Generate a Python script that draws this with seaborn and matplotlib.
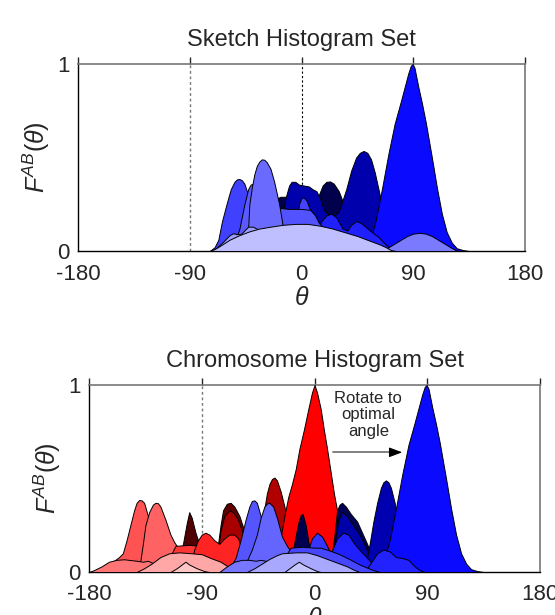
import matplotlib
matplotlib.use("Agg")
import matplotlib.pyplot as plt
import seaborn as sns

# ---- Sketch histogram set: (theta, F) control points per histogram ----
SK_NAVY = [(-24, 0), (-22, 0.2), (-20, 0.28), (-17, 0.29), (-12, 0.29), (-5, 0.25), (5, 0.22),
           (14, 0.3), (17, 0.35), (20, 0.37), (23, 0.372), (26, 0.36), (30, 0.32), (34, 0.25), (38, 0.12), (42, 0)]
SK_DARK = [(-20, 0), (-16, 0.15), (-13, 0.28), (-10, 0.35), (-8, 0.37), (-5, 0.37), (-2, 0.355), (2, 0.35),
           (6, 0.345), (9, 0.33), (12, 0.32), (15, 0.28), (18, 0.22), (24, 0.18), (30, 0.21), (36, 0.33),
           (40, 0.43), (44, 0.5), (47, 0.525), (50, 0.535), (53, 0.525), (56, 0.49), (59, 0.42), (63, 0.3),
           (68, 0.15), (72, 0.05), (76, 0)]
SK_BIG = [(50, 0), (55, 0.05), (60, 0.17), (65, 0.34), (70, 0.52), (75, 0.68), (80, 0.8), (84, 0.9),
          (86, 0.95), (88, 0.99), (89.5, 1.0), (91, 0.98), (94, 0.88), (97, 0.79), (100, 0.69), (105, 0.5),
          (109, 0.34), (113, 0.2), (117, 0.1), (121, 0.045), (125, 0.015), (130, 0.005), (135, 0)]
SK_BRIGHT = [(8, 0), (12, 0.1), (16, 0.16), (20, 0.19), (24, 0.2), (28, 0.18), (33, 0.12), (37, 0.11),
             (40, 0.14), (44, 0.16), (48, 0.15), (55, 0.11), (62, 0.075), (67, 0.04), (72, 0.01), (76, 0)]
SK_BUMP = [(-6, 0), (-4, 0.15), (-2, 0.25), (0, 0.285), (2, 0.285), (4, 0.27), (8, 0.2), (12, 0.1), (15, 0)]
SK_PLATEAU = [(-22, 0), (-19, 0.2), (-17, 0.23), (-10, 0.225), (0, 0.225), (7, 0.22), (11, 0.19),
              (14, 0.15), (17, 0.13), (20, 0.08), (24, 0)]
SK_PEAK1 = [(-74, 0), (-70, 0.02), (-67, 0.06), (-64, 0.16), (-60, 0.26), (-57, 0.33), (-54, 0.37),
            (-52, 0.383), (-50, 0.385), (-48, 0.378), (-46, 0.36), (-43, 0.3), (-39, 0.2), (-35, 0.1), (-30, 0)]
SK_PEAK2 = [(-56, 0), (-50, 0.12), (-46, 0.25), (-43, 0.33), (-41, 0.355), (-39, 0.36), (-37, 0.35),
            (-33, 0.25), (-29, 0.1), (-26, 0)]
SK_TALL = [(-48, 0), (-45, 0.05), (-43, 0.12), (-42, 0.25), (-40, 0.34), (-38, 0.41), (-36, 0.455),
           (-34, 0.478), (-32, 0.49), (-30, 0.488), (-28, 0.475), (-25, 0.44), (-22, 0.37), (-20, 0.31),
           (-18, 0.25), (-16, 0.17), (-14, 0.08), (-12, 0)]
SK_LIGHT = [(-72, 0), (-68, 0.02), (-63, 0.05), (-58, 0.085), (-55, 0.095), (-52, 0.09), (-49, 0.09),
            (-46, 0.11), (-43, 0.13), (-39, 0.13), (-35, 0.115), (-30, 0.1), (-25, 0.08), (-20, 0)]
SK_HUMP = [(66, 0), (70, 0.02), (75, 0.04), (80, 0.06), (85, 0.08), (90, 0.093), (95, 0.097),
           (100, 0.093), (105, 0.08), (110, 0.06), (115, 0.04), (120, 0.02), (124, 0.005), (128, 0)]
SK_LAV = [(-74, 0), (-70, 0.01), (-65, 0.03), (-58, 0.06), (-50, 0.085), (-42, 0.105), (-34, 0.12),
          (-25, 0.13), (-15, 0.14), (-5, 0.145), (5, 0.145), (15, 0.135), (25, 0.12), (35, 0.1),
          (45, 0.08), (55, 0.055), (63, 0.035), (68, 0.02), (72, 0.005), (76, 0)]

# ---- Chromosome histogram set ----
CH_MAROON_A = [(-112, 0), (-108, 0.08), (-105, 0.15), (-102, 0.26), (-100, 0.32), (-98, 0.29),
               (-95, 0.21), (-92, 0.15), (-88, 0.08), (-84, 0)]
CH_R1 = [(-178, 0), (-172, 0.01), (-165, 0.04), (-160, 0.06), (-156, 0.08), (-153, 0.1), (-150, 0.17),
         (-147, 0.25), (-144, 0.33), (-142, 0.37), (-140, 0.385), (-138, 0.383), (-136, 0.37), (-133, 0.3),
         (-130, 0.2), (-127, 0.1), (-124, 0.04), (-120, 0)]
CH_R2 = [(-142, 0), (-139, 0.06), (-137, 0.15), (-135, 0.25), (-132, 0.32), (-129, 0.36), (-127, 0.37),
         (-125, 0.368), (-123, 0.35), (-119, 0.28), (-115, 0.2), (-112, 0.16), (-110, 0.14), (-105, 0.08),
         (-100, 0.03), (-95, 0)]
CH_R_PLATE = [(-118, 0), (-114, 0.1), (-111, 0.14), (-100, 0.145), (-90, 0.14), (-82, 0.135),
              (-75, 0.11), (-68, 0.085), (-62, 0.06), (-55, 0.02), (-50, 0)]
CH_MAROON_B = [(-80, 0), (-77, 0.15), (-75, 0.25), (-73, 0.33), (-70, 0.365), (-67, 0.37), (-64, 0.35),
               (-60, 0.3), (-56, 0.22), (-52, 0.12), (-48, 0)]
CH_MAROON_C = [(-80, 0), (-77, 0.12), (-75, 0.22), (-72, 0.3), (-68, 0.33), (-65, 0.32), (-61, 0.28),
               (-57, 0.2), (-53, 0.1), (-48, 0)]
CH_R_HUMP = [(-100, 0), (-96, 0.12), (-93, 0.17), (-90, 0.2), (-87, 0.21), (-84, 0.2), (-80, 0.17),
             (-76, 0.15), (-72, 0.18), (-68, 0.2), (-64, 0.2), (-61, 0.18), (-57, 0.1), (-53, 0.03), (-50, 0)]
CH_R_LIGHT = [(-180, 0), (-176, 0.01), (-170, 0.03), (-164, 0.055), (-158, 0.065), (-152, 0.068),
              (-147, 0.064), (-142, 0.06), (-137, 0.055), (-133, 0.06), (-128, 0.045), (-122, 0.02), (-118, 0)]
CH_R_PALE = [(-142, 0), (-136, 0.02), (-130, 0.045), (-123, 0.08), (-116, 0.1), (-108, 0.105),
             (-98, 0.1), (-90, 0.095), (-83, 0.075), (-75, 0.055), (-68, 0.025), (-62, 0.005), (-58, 0)]
CH_R_LAV = [(-115, 0), (-110, 0.02), (-106, 0.04), (-103, 0.055), (-100, 0.04), (-94, 0.02),
            (-88, 0.005), (-84, 0)]
CH_DARKRED = [(-50, 0), (-45, 0.15), (-41, 0.3), (-38, 0.42), (-36, 0.47), (-34, 0.497), (-32, 0.505),
              (-30, 0.49), (-27, 0.43), (-24, 0.35), (-20, 0.2), (-16, 0.08), (-12, 0)]
CH_RED = [(-40, 0), (-33, 0.05), (-28, 0.15), (-24, 0.3), (-21, 0.4), (-18, 0.47), (-15, 0.55),
          (-12, 0.66), (-8.5, 0.76), (-5, 0.87), (-2, 0.96), (0, 1.0), (2, 0.96), (5, 0.87), (7.5, 0.76),
          (10, 0.66), (13, 0.53), (15.5, 0.42), (18, 0.33), (21, 0.22), (25, 0.12), (30, 0.05), (35, 0)]
CH_NAVY_B = [(12, 0), (16, 0.2), (18, 0.33), (20, 0.36), (22, 0.37), (25, 0.35), (29, 0.31), (34, 0.27),
             (38, 0.21), (42, 0.15), (46, 0.08), (50, 0)]
CH_DARK_B = [(12, 0), (16, 0.15), (19, 0.28), (22, 0.32), (26, 0.3), (31, 0.25), (36, 0.2), (41, 0.13),
             (46, 0.06), (50, 0)]
CH_DARK57 = [(38, 0), (42, 0.08), (44, 0.15), (47, 0.27), (50, 0.37), (53, 0.45), (55, 0.48), (57, 0.49),
             (59, 0.48), (61, 0.45), (64, 0.37), (67, 0.25), (71, 0.1), (75, 0)]
CH_BIG = [(50, 0), (55, 0.05), (60, 0.17), (65, 0.34), (70, 0.52), (75, 0.68), (80, 0.8), (84, 0.9),
          (86, 0.95), (88, 0.99), (89.5, 1.0), (91, 0.98), (94, 0.88), (97, 0.79), (100, 0.69), (105, 0.5),
          (109, 0.34), (113, 0.2), (117, 0.1), (121, 0.045), (125, 0.015), (130, 0.005), (135, 0)]
CH_BRIGHT = [(8, 0), (13, 0.1), (18, 0.18), (23, 0.21), (27, 0.2), (32, 0.15), (37, 0.11), (40, 0.09),
             (44, 0.06), (48, 0.03), (52, 0)]
CH_BRIGHT2 = [(40, 0), (45, 0.05), (50, 0.1), (55, 0.12), (60, 0.11), (65, 0.08), (70, 0.075),
              (75, 0.065), (80, 0.03), (84, 0.01), (88, 0)]
CH_NAVY_A = [(-20, 0), (-16, 0.16), (-13, 0.26), (-11, 0.305), (-9.5, 0.31), (-7, 0.25), (-4.5, 0.145),
             (-2, 0.05), (0, 0)]
CH_BLUEHUMP = [(-8, 0), (-5, 0.12), (-2, 0.18), (2, 0.21), (6, 0.19), (10, 0.14), (14, 0.08), (18, 0)]
CH_BLUE1 = [(-72, 0), (-67, 0.03), (-63, 0.075), (-59, 0.17), (-55, 0.28), (-52, 0.35), (-50, 0.38),
            (-48, 0.383), (-46, 0.37), (-43, 0.3), (-40, 0.2), (-36, 0.1), (-32, 0.03), (-28, 0)]
CH_BLUE2 = [(-58, 0), (-54, 0.06), (-50, 0.12), (-46, 0.2), (-43, 0.29), (-40, 0.35), (-38, 0.366),
            (-36, 0.37), (-33, 0.35), (-30, 0.29), (-26, 0.19), (-22, 0.14), (-19, 0.11), (-15, 0.05), (-10, 0)]
CH_PLATE_B = [(-30, 0), (-22, 0.1), (-19, 0.13), (-10, 0.135), (0, 0.13), (5, 0.13), (12, 0.115),
              (20, 0.095), (29, 0.065), (36, 0.04), (45, 0.015), (52, 0)]
CH_LIGHT_B = [(-76, 0), (-70, 0.03), (-64, 0.055), (-58, 0.065), (-52, 0.065), (-47, 0.06), (-43, 0.065),
              (-39, 0.06), (-35, 0.04), (-30, 0)]
CH_PALE_B = [(-54, 0), (-48, 0.02), (-42, 0.045), (-36, 0.07), (-30, 0.09), (-26, 0.1), (-15, 0.105),
             (-6, 0.105), (2, 0.09), (10, 0.07), (18, 0.05), (26, 0.03), (32, 0.01), (36, 0)]
CH_LAV_B = [(-24, 0), (-20, 0.02), (-16, 0.04), (-12.5, 0.055), (-9, 0.04), (-3, 0.02), (2, 0.005), (5, 0)]

X_TICKS = [-180, -90, 0, 90, 180]
Y_TICKS = [0, 1]

# back-to-front drawing order with fill colours
SKETCH_LAYERS = [
    (SK_NAVY, "#00004c"), (SK_DARK, "#0000ad"), (SK_BIG, "#0a0aff"), (SK_BRIGHT, "#2020ff"),
    (SK_BUMP, "#4444ff"), (SK_PLATEAU, "#5252ff"), (SK_PEAK1, "#4040ff"), (SK_PEAK2, "#5a5aff"),
    (SK_TALL, "#6a6aff"), (SK_LIGHT, "#9c9cff"), (SK_HUMP, "#7a7aff"), (SK_LAV, "#bfbfff"),
]
CHROMO_LAYERS = [
    (CH_MAROON_A, "#500000"), (CH_R1, "#ff5252"), (CH_R2, "#ff6262"), (CH_R_PLATE, "#ff3535"),
    (CH_MAROON_B, "#5e0000"), (CH_MAROON_C, "#a80000"), (CH_R_HUMP, "#ff2424"),
    (CH_R_LIGHT, "#ff7575"), (CH_R_PALE, "#ffa6a6"), (CH_R_LAV, "#ffc6c6"),
    (CH_DARKRED, "#b00000"), (CH_RED, "#ff0000"), (CH_NAVY_B, "#000055"), (CH_DARK_B, "#0000a8"),
    (CH_DARK57, "#0000b0"), (CH_BIG, "#0a0aff"), (CH_BRIGHT, "#2020ff"), (CH_BRIGHT2, "#2222ff"),
    (CH_NAVY_A, "#000050"), (CH_BLUEHUMP, "#3535ff"), (CH_BLUE1, "#5555ff"), (CH_BLUE2, "#6464ff"),
    (CH_PLATE_B, "#4646ff"), (CH_LIGHT_B, "#7676ff"), (CH_PALE_B, "#a8a8ff"), (CH_LAV_B, "#c6c6ff"),
]

sns.set_style("white")
plt.rcParams["font.family"] = ["Liberation Sans", "DejaVu Sans"]
plt.rcParams["mathtext.fontset"] = "custom"
plt.rcParams["mathtext.it"] = "Liberation Sans:italic"
plt.rcParams["mathtext.rm"] = "Liberation Sans"

fig = plt.figure(figsize=(5.55, 6.15), dpi=100)
ax_top = fig.add_axes([78 / 555, 1 - 251 / 615, 447 / 555, 187 / 615])
ax_bot = fig.add_axes([89 / 555, 1 - 572 / 615, 451 / 555, 187 / 615])


def draw_set(ax, layers):
    for z, (pts, col) in enumerate(layers):
        xs = [p[0] for p in pts]
        ys = [p[1] for p in pts]
        ax.fill_between(xs, ys, 0, facecolor=col, edgecolor="black", linewidth=0.7, zorder=3 + z * 0.01)


def style_axes(ax, title):
    ax.set_xlim(-180, 180)
    ax.set_ylim(0, 1)
    ax.set_xticks(X_TICKS)
    ax.set_xticklabels([str(t) for t in X_TICKS])
    ax.set_yticks(Y_TICKS)
    ax.set_yticklabels(["0", "1"])
    for side in ["left", "bottom"]:
        ax.spines[side].set_color("black")
        ax.spines[side].set_linewidth(1.0)
    for side in ["top", "right"]:
        ax.spines[side].set_color("#777777")
        ax.spines[side].set_linewidth(1.2)
    ax.tick_params(axis="x", direction="out", length=5, width=1, top=True, labelsize=16, pad=4)
    ax.tick_params(axis="y", direction="out", length=4, width=1, labelsize=16, pad=2)
    ax.set_title(title, fontsize=17, pad=13)
    ax.set_xlabel(r"$\theta$", fontsize=18, labelpad=1)
    ax.set_ylabel(r"$F^{AB}(\theta)$", fontsize=18, labelpad=4)


draw_set(ax_top, SKETCH_LAYERS)
ax_top.axvline(-90, color="#777777", linestyle=(0, (2, 2)), linewidth=1.0, zorder=1)
ax_top.axvline(0, color="black", linestyle=(0, (2, 2)), linewidth=0.8, zorder=1)
style_axes(ax_top, "Sketch Histogram Set")

draw_set(ax_bot, CHROMO_LAYERS)
ax_bot.axvline(-90, color="#777777", linestyle=(0, (2, 2)), linewidth=1.0, zorder=1)
style_axes(ax_bot, "Chromosome Histogram Set")

ax_bot.text(43, 0.84, "Rotate to\noptimal\nangle", ha="center", va="center", fontsize=12,
            linespacing=1.15, zorder=10)
# gray shaft, black head
ax_bot.plot([15, 66], [0.64, 0.64], color="#777777", lw=1.3, zorder=10)
ax_bot.annotate("", xy=(70, 0.64), xytext=(62, 0.64),
                arrowprops=dict(arrowstyle="-|>,head_length=0.8,head_width=0.3", color="black",
                                lw=0.8, shrinkA=0, shrinkB=0), zorder=11)

fig.savefig("out.png", dpi=100)
